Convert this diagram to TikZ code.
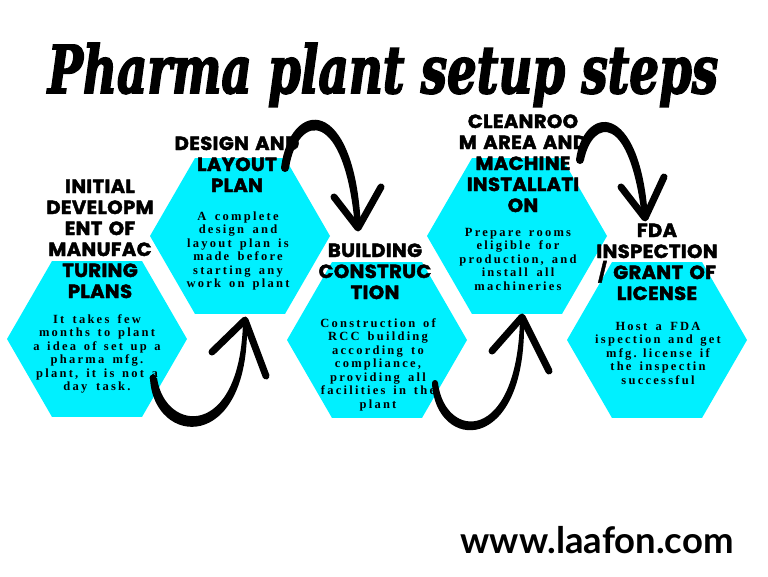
\documentclass[tikz,border=0pt]{standalone}
\usepackage{fontspec}
\usepackage{graphicx}
\usetikzlibrary{shapes.geometric}
\newfontfamily\headfont{Poppins}[BoldFeatures={FakeBold=2.2, FakeStretch=1.03}, LetterSpace=2]
\newfontfamily\bodyfont{Liberation Serif}[LetterSpace=18]
\newfontfamily\titlefont{DejaVu Serif}[BoldItalicFeatures={FakeBold=3}]
\newfontfamily\urlfont{Lato}
\definecolor{hexcyan}{RGB}{0,240,255}
\newcommand\widespaces{\spaceskip 6.5pt plus 1pt\relax}
\begin{document}
\begin{tikzpicture}[x=1pt,y=-1pt,
  hex/.style={regular polygon, regular polygon sides=6, minimum size=180pt, inner sep=0pt, fill=hexcyan},
  htitle/.style={anchor=base, align=center, inner sep=0pt, text width=170pt, font=\headfont\bfseries\fontsize{19}{21}\selectfont},
  hbody/.style={anchor=base, align=center, inner sep=0pt, text width=180pt, font=\bodyfont\bfseries\fontsize{12.5}{13.5}\selectfont, execute at begin node=\widespaces},
  brushfill/.style={fill=black},
  barb/.style={line width=7pt, line cap=round, line join=round}]
\fill[white] (0,0) rectangle (768,576);
\useasboundingbox (0,0) rectangle (768,576);

\node[anchor=base, inner sep=0pt] (title) at (383,93) {\resizebox{670pt}{50pt}{\titlefont\bfseries\itshape Pharma plant setup steps}};

\node[hex] (h1) at (97,339) {};
\node[hex] (h2) at (240,236) {};
\node[hex] (h3) at (377,340) {};
\node[hex] (h4) at (517,236) {};
\node[hex] (h5) at (657,340) {};

\node[htitle] (t1) at (100,193) {INITIAL\\DEVELOPM\\ENT OF\\MANUFAC\\TURING\\PLANS};
\node[htitle] (t2) at (237,150) {DESIGN AND\\LAYOUT\\PLAN};
\node[htitle] (t3) at (375,257) {BUILDING\\CONSTRUC\\TION};
\node[htitle] (t4) at (523,128) {CLEANROO\\M AREA AND\\MACHINE\\INSTALLATI\\ON};
\node[htitle] (t5) at (657,237) {FDA\\INSPECTION\\/ GRANT OF\\LICENSE};

\node[hbody] (b1) at (97,323) {It takes few\\months to plant\\a idea of set up a\\pharma mfg.\\plant, it is not a\\day task.};
\node[hbody] (b2) at (238,220) {A complete\\design and\\layout plan is\\made before\\starting any\\work on plant};
\node[hbody] (b3) at (378,327) {Construction of\\RCC building\\according to\\compliance,\\providing all\\facilities in the\\plant};
\node[hbody] (b4) at (518,236) {Prepare rooms\\eligible for\\production, and\\install all\\machineries};
\node[hbody] (b5) at (658,330) {Host a FDA\\ispection and get\\mfg. license if\\the inspectin\\successful};

% arrow 1 (h1 -> h2)
\coordinate (a1s) at (153,378);
\coordinate (a1t) at (245,320);
\coordinate (a1l) at (212,352);
\coordinate (a1r) at (266,376);
\fill[brushfill] (150,378) .. controls (153,447) and (250,455) .. (247,322)
  -- (243,322) .. controls (240,440) and (165,433) .. (157,378) -- cycle;
\fill (a1s) circle (3.5pt);
\draw[barb] (a1l) -- (a1t) -- (a1r);
% arrow 2 (h2 -> h3)
\coordinate (a2s) at (285,168);
\coordinate (a2t) at (358,228);
\coordinate (a2l) at (334,197);
\coordinate (a2r) at (381,187);
\fill[brushfill] (281,168) .. controls (290,98) and (355,93) .. (361,228)
  -- (355,228) .. controls (345,108) and (298,112) .. (289,168) -- cycle;
\fill (a2s) circle (4pt);
\draw[barb] (a2l) -- (a2t) -- (a2r);
% arrow 3 (h3 -> h4)
\coordinate (a3s) at (435,383);
\coordinate (a3t) at (522,317);
\coordinate (a3l) at (492,351);
\coordinate (a3r) at (549,371);
\fill[brushfill] (432,383) .. controls (435,452) and (527,457) .. (524,319)
  -- (520,319) .. controls (517,445) and (445,440) .. (438,383) -- cycle;
\fill (a3s) circle (3pt);
\draw[barb] (a3l) -- (a3t) -- (a3r);
% arrow 4 (h4 -> h5)
\coordinate (a4s) at (580,160);
\coordinate (a4t) at (645,218);
\coordinate (a4l) at (621,187);
\coordinate (a4r) at (664,177);
\fill[brushfill] (576,160) .. controls (583,105) and (640,98) .. (648,218)
  -- (642,218) .. controls (630,113) and (593,118) .. (584,160) -- cycle;
\fill (a4s) circle (4pt);
\draw[barb] (a4l) -- (a4t) -- (a4r);

\node[anchor=base, inner sep=0pt] (url) at (597,553) {\resizebox{273pt}{!}{\urlfont\bfseries www.laafon.com}};
\end{tikzpicture}
\end{document}
